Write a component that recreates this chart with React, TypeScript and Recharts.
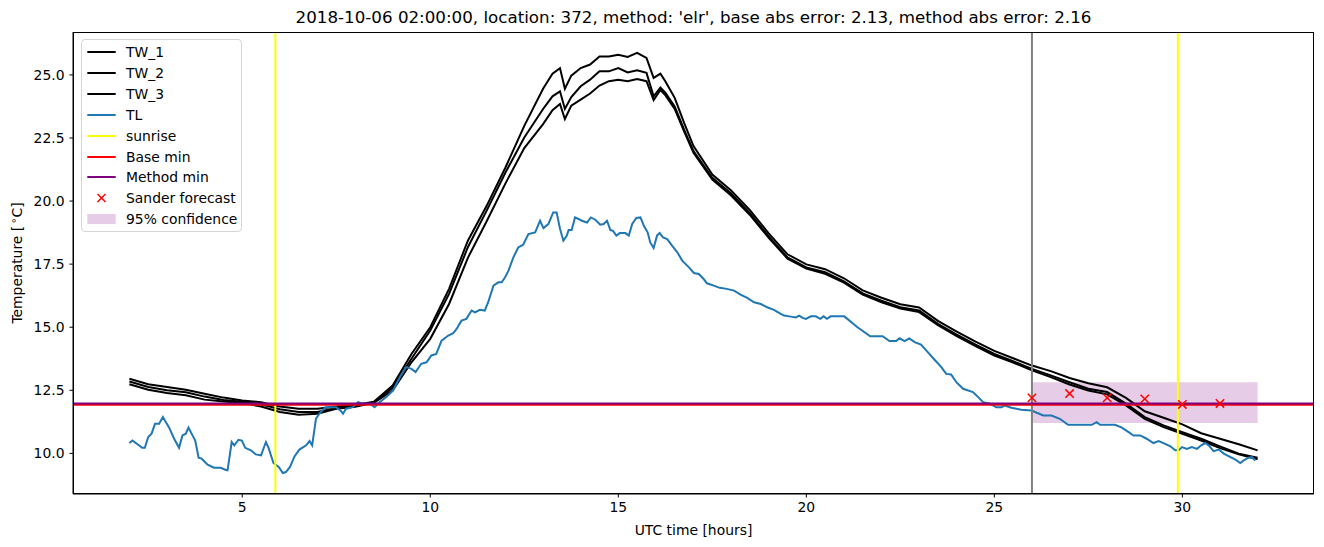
import React from 'react';
import { ComposedChart, Line, Scatter, XAxis, YAxis, ReferenceLine, ReferenceArea } from 'recharts';

const FONT = '"DejaVu Sans", sans-serif';

// wet-bulb temperatures (three sensors), shared hour axis
const twHours = [
  2, 2.5, 3, 3.5, 4, 4.5, 5, 5.5, 6, 6.5, 7, 7.5, 8, 8.5, 9, 9.5, 10, 10.5, 11, 11.5, 12, 12.5, 13,
  13.25, 13.45, 13.58, 13.75,
  14, 14.25, 14.5, 14.75, 15, 15.25, 15.5, 15.75,
  15.94, 16.12, 16.25, 16.5, 16.75,
  17, 17.5, 18, 18.5, 19, 19.5, 20, 20.5, 21, 21.5, 22, 22.5, 23, 23.5, 24, 24.5, 25, 25.5, 26,
  26.5, 27, 27.5, 28, 28.5, 29, 29.5, 30, 30.5, 31, 31.5, 32,
];
const tw1 = [
  12.96, 12.74, 12.63, 12.52, 12.36, 12.21, 12.1, 12.03, 11.86, 11.77, 11.77, 11.86, 11.92, 12.05, 12.69, 13.94, 15.0, 16.52, 18.43, 19.81, 21.33, 22.98, 24.45,
  25.05, 25.27, 24.45, 24.97,
  25.27, 25.41, 25.73, 25.73, 25.8, 25.71, 25.87, 25.67,
  24.88, 25.05, 24.75, 24.09, 23.1,
  22.18, 21.05, 20.42, 19.64, 18.72, 17.89, 17.49, 17.3, 16.94, 16.46, 16.17, 15.91, 15.78, 15.25, 14.83, 14.43, 14.06, 13.77, 13.48,
  13.26, 12.99, 12.78, 12.62, 12.2, 11.67, 11.41, 11.15, 10.8, 10.58, 10.36, 10.12,
];
const tw2 = [
  12.85, 12.63, 12.5, 12.42, 12.25, 12.12, 12.05, 11.95, 11.75, 11.64, 11.64, 11.8, 11.88, 12.02, 12.6, 13.75, 14.87, 16.32, 18.17, 19.62, 21.13, 22.52, 23.65,
  24.15, 24.35, 23.65, 24.12,
  24.55, 24.81, 25.14, 25.14, 25.27, 25.1, 25.18, 25.08,
  24.15, 24.5, 24.3, 23.75, 22.83,
  21.98, 20.92, 20.3, 19.52, 18.6, 17.77, 17.37, 17.18, 16.82, 16.34, 16.05, 15.79, 15.66, 15.13, 14.71, 14.31, 13.94, 13.65, 13.35,
  13.09, 12.82, 12.56, 12.43, 11.97, 11.44, 11.11, 10.84, 10.58, 10.28, 9.99, 9.83,
];
const tw3 = [
  12.74, 12.52, 12.39, 12.3, 12.13, 12.06, 12.0, 11.86, 11.64, 11.53, 11.57, 11.77, 11.85, 12.0, 12.49, 13.61, 14.54, 15.92, 17.75, 19.2, 20.7, 22.1, 23.05,
  23.6, 23.85, 23.25, 23.78,
  24.02, 24.26, 24.58, 24.75, 24.81, 24.75, 24.84, 24.75,
  24.0, 24.4, 24.2, 23.65, 22.76,
  21.91, 20.85, 20.22, 19.45, 18.54, 17.72, 17.32, 17.12, 16.77, 16.29, 15.99, 15.74, 15.6, 15.08, 14.65, 14.25, 13.88, 13.6, 13.29,
  13.02, 12.73, 12.49, 12.34, 11.9, 11.37, 11.04, 10.78, 10.51, 10.21, 9.96, 9.77,
];

// air temperature TL
const tlHours = [
  2.0, 2.08, 2.34, 2.41, 2.5, 2.59, 2.68, 2.79, 2.89, 3.05,
  3.19, 3.32, 3.41, 3.5, 3.57, 3.75, 3.84, 3.92, 4.08, 4.25,
  4.43, 4.55, 4.61, 4.72, 4.79, 4.9, 4.99, 5.08, 5.23, 5.36,
  5.5, 5.63, 5.7, 5.83, 5.97, 6.08, 6.16, 6.27, 6.39, 6.52,
  6.7, 6.79, 6.86, 6.96, 7.05, 7.21, 7.5, 7.63, 7.68, 7.76,
  7.94, 8.08, 8.21, 8.39, 8.52, 8.65, 8.83, 9.01, 9.19, 9.36,
  9.5, 9.61, 9.76, 9.9, 10.03, 10.16, 10.3, 10.48, 10.61, 10.7,
  10.83, 10.96, 11.1, 11.19, 11.32, 11.45, 11.54, 11.68, 11.81, 11.9,
  11.99, 12.08, 12.21, 12.34, 12.47, 12.61, 12.79, 12.92, 13.01, 13.14,
  13.27, 13.36, 13.45, 13.54, 13.63, 13.68, 13.76, 13.85, 13.94, 14.03,
  14.17, 14.27, 14.39, 14.52, 14.61, 14.7, 14.79, 14.86, 14.95, 15.04,
  15.19, 15.28, 15.37, 15.48, 15.59, 15.68, 15.78, 15.85, 15.94, 16.03,
  16.1, 16.19, 16.3, 16.43, 16.57, 16.7, 16.88, 17.01, 17.14, 17.27,
  17.36, 17.54, 17.7, 17.88, 18.08, 18.25, 18.43, 18.61, 18.79, 18.96,
  19.14, 19.32, 19.41, 19.59, 19.72, 19.81, 19.9, 19.99, 20.12, 20.25,
  20.37, 20.46, 20.55, 20.65, 21.01, 21.36, 21.7, 22.03, 22.21, 22.39,
  22.48, 22.61, 22.74, 22.88, 23.05, 23.23, 23.41, 23.59, 23.72, 23.85,
  23.99, 24.17, 24.43, 24.57, 24.7, 24.88, 25.05, 25.19, 25.28, 25.45,
  25.72, 25.99, 26.08, 26.3, 26.52, 26.74, 26.96, 27.19, 27.59, 27.72,
  27.81, 28.21, 28.39, 28.57, 28.7, 28.88, 29.05, 29.23, 29.37, 29.54,
  29.68, 29.81, 29.9, 29.99, 30.12, 30.25, 30.39, 30.5, 30.61, 30.7,
  30.83, 30.97, 31.1, 31.28, 31.41, 31.54, 31.63, 31.76, 31.85, 31.94,
];
const tlTemps = [
  10.41, 10.51, 10.22, 10.22, 10.65, 10.78, 11.17, 11.17, 11.44, 11.04,
  10.58, 10.22, 10.71, 10.78, 11.02, 10.51, 9.83, 9.79, 9.55, 9.43,
  9.43, 9.35, 9.33, 10.45, 10.32, 10.54, 10.51, 10.22, 10.12, 9.96,
  9.92, 10.45, 10.22, 9.62, 9.46, 9.22, 9.26, 9.46, 9.88, 10.15,
  10.32, 10.49, 10.32, 11.37, 11.57, 11.83, 11.83, 11.67, 11.57, 11.77,
  11.83, 12.03, 11.97, 11.97, 11.83, 12.03, 12.23, 12.49, 13.02, 13.42,
  13.35, 13.22, 13.55, 13.61, 13.88, 13.94, 14.47, 14.67, 14.76, 14.93,
  15.26, 15.33, 15.66, 15.59, 15.69, 15.66, 15.99, 16.65, 16.78, 16.78,
  16.98, 17.24, 17.77, 18.16, 18.27, 18.69, 18.76, 19.22, 18.93, 19.09,
  19.55, 19.55, 18.9, 18.43, 18.63, 18.85, 18.85, 19.35, 19.29, 19.22,
  19.15, 19.35, 19.26, 19.06, 19.09, 19.22, 18.85, 18.82, 18.63, 18.73,
  18.73, 18.63, 19.09, 19.33, 19.35, 19.02, 18.76, 18.36, 18.14, 18.63,
  18.73, 18.56, 18.49, 18.23, 17.97, 17.64, 17.37, 17.15, 17.11, 16.91,
  16.74, 16.65, 16.56, 16.52, 16.45, 16.29, 16.16, 15.99, 15.92, 15.79,
  15.69, 15.53, 15.46, 15.42, 15.39, 15.46, 15.37, 15.33, 15.43, 15.43,
  15.33, 15.43, 15.33, 15.43, 15.43, 15.0, 14.64, 14.64, 14.45, 14.45,
  14.56, 14.45, 14.56, 14.41, 14.31, 14.01, 13.71, 13.42, 13.15, 13.13,
  12.82, 12.56, 12.43, 12.23, 12.03, 11.97, 11.83, 11.83, 11.9, 11.81,
  11.73, 11.7, 11.64, 11.5, 11.5, 11.37, 11.13, 11.13, 11.13, 11.24,
  11.13, 11.13, 11.02, 10.84, 10.71, 10.71, 10.58, 10.41, 10.49, 10.38,
  10.28, 10.12, 10.12, 10.25, 10.18, 10.25, 10.18, 10.32, 10.41, 10.32,
  10.09, 10.15, 9.99, 9.85, 9.75, 9.62, 9.72, 9.83, 9.85, 9.72,
];

const forecastHours = [26, 27, 28, 29, 30, 31];
const forecastTemps = [12.2, 12.37, 12.2, 12.16, 11.94, 11.98];

const sunriseHours = [5.88, 29.88];
const forecastStart = 26;
const baseMin = 11.93;
const methodMin = 11.98;
const confidenceHours = [26, 32];
const confidenceTemps = [11.2, 12.82];

const xTicks = [5, 10, 15, 20, 25, 30];
const yTicks = [10, 12.5, 15, 17.5, 20, 22.5, 25];
const X_DOMAIN = [0.5, 33.5];
const Y_DOMAIN = [8.39, 26.7];

const TITLE = "2018-10-06 02:00:00, location: 372, method: 'elr', base abs error: 2.13, method abs error: 2.16";

const toPoints = (hours: number[], temps: number[]) => hours.map((h, i) => ({ h, t: temps[i] }));

const twSeries = [
  { name: 'TW_1', data: toPoints(twHours, tw1) },
  { name: 'TW_2', data: toPoints(twHours, tw2) },
  { name: 'TW_3', data: toPoints(twHours, tw3) },
];
const tlData = toPoints(tlHours, tlTemps);
const forecastData = toPoints(forecastHours, forecastTemps);

const XMark = (props: any) => {
  const { cx, cy } = props;
  if (cx == null || cy == null) return null;
  const s = 4.2;
  return (
    <path
      d={`M${cx - s},${cy - s}L${cx + s},${cy + s}M${cx - s},${cy + s}L${cx + s},${cy - s}`}
      stroke="#ff0000"
      strokeWidth={1.5}
      fill="none"
    />
  );
};

const legendItems = [
  { label: 'TW_1', kind: 'line', color: '#000000' },
  { label: 'TW_2', kind: 'line', color: '#000000' },
  { label: 'TW_3', kind: 'line', color: '#000000' },
  { label: 'TL', kind: 'line', color: '#1f77b4' },
  { label: 'sunrise', kind: 'line', color: '#ffff00' },
  { label: 'Base min', kind: 'line', color: '#ff0000' },
  { label: 'Method min', kind: 'line', color: '#800080' },
  { label: 'Sander forecast', kind: 'x', color: '#ff0000' },
  { label: '95% confidence', kind: 'patch', color: 'rgba(128,0,128,0.2)' },
];

const LegendBox = () => (
  <div
    style={{
      position: 'absolute',
      left: 81,
      top: 39,
      width: 161,
      height: 193,
      border: '1px solid #d5d5d5',
      borderRadius: 4,
      background: 'rgba(255,255,255,0.8)',
      boxSizing: 'border-box',
      fontFamily: FONT,
      fontSize: 13.9,
      color: '#000',
    }}
  >
    {legendItems.map((item, i) => {
      const cy = 12 + i * 20.9;
      return (
        <div key={item.label} style={{ position: 'absolute', left: 0, top: cy - 10, height: 20, width: 160 }}>
          <svg width={36} height={20} style={{ position: 'absolute', left: 4, top: 0 }}>
            {item.kind === 'line' && <line x1={1.3} x2={29.7} y1={10} y2={10} stroke={item.color} strokeWidth={2} />}
            {item.kind === 'x' && (
              <path d="M11.5,6L19.5,14M11.5,14L19.5,6" stroke={item.color} strokeWidth={1.5} fill="none" />
            )}
            {item.kind === 'patch' && <rect x={1.3} y={5} width={28.4} height={10} fill={item.color} />}
          </svg>
          <span style={{ position: 'absolute', left: 44, top: 0, lineHeight: '20px', whiteSpace: 'nowrap' }}>
            {item.label}
          </span>
        </div>
      );
    })}
  </div>
);

const tickStyle = { fill: '#000', fontSize: 13.9, fontFamily: FONT };

const App = () => {
  return (
    <div style={{ position: 'absolute', left: 0, top: 0, width: 1324, height: 547, background: '#fff', fontFamily: FONT }}>
      <ComposedChart width={1324} height={547} margin={{ top: 32, right: 10, bottom: 0, left: 0 }}>
        <XAxis
          dataKey="h"
          type="number"
          domain={X_DOMAIN}
          ticks={xTicks}
          allowDataOverflow
          height={53}
          tick={tickStyle}
          tickSize={3.5}
          tickMargin={5}
          tickLine={{ stroke: '#000' }}
          axisLine={{ stroke: '#000' }}
        />
        <YAxis
          type="number"
          domain={Y_DOMAIN}
          ticks={yTicks}
          allowDataOverflow
          width={73}
          tick={tickStyle}
          tickFormatter={(v: number) => v.toFixed(1)}
          tickSize={3.5}
          tickMargin={5}
          tickLine={{ stroke: '#000' }}
          axisLine={{ stroke: '#000' }}
        />
        <ReferenceArea
          x1={confidenceHours[0]}
          x2={confidenceHours[1]}
          y1={confidenceTemps[0]}
          y2={confidenceTemps[1]}
          fill="#800080"
          fillOpacity={0.2}
          stroke="none"
        />
        {twSeries.map((s) => (
          <Line
            key={s.name}
            data={s.data}
            dataKey="t"
            name={s.name}
            type="linear"
            stroke="#000000"
            strokeWidth={2}
            dot={false}
            isAnimationActive={false}
          />
        ))}
        <Line
          data={tlData}
          dataKey="t"
          name="TL"
          type="linear"
          stroke="#1f77b4"
          strokeWidth={2}
          dot={false}
          isAnimationActive={false}
        />
        {sunriseHours.map((h) => (
          <ReferenceLine key={h} x={h} stroke="#ffff00" strokeWidth={2} />
        ))}
        <ReferenceLine x={forecastStart} stroke="#808080" strokeWidth={2} />
        <ReferenceLine y={baseMin} stroke="#ff0000" strokeWidth={2} />
        <ReferenceLine y={methodMin} stroke="#800080" strokeWidth={2} />
        <Scatter data={forecastData} dataKey="t" name="Sander forecast" shape={XMark} isAnimationActive={false} />
      </ComposedChart>

      {/* axes frame (matplotlib spines) */}
      <div
        style={{
          position: 'absolute',
          left: 73,
          top: 32,
          width: 1241,
          height: 462,
          border: '1px solid #000',
          boxSizing: 'border-box',
          pointerEvents: 'none',
        }}
      />

      <div
        style={{
          position: 'absolute',
          left: 73,
          width: 1241,
          top: 7,
          lineHeight: '20px',
          textAlign: 'center',
          fontSize: 16.7,
          whiteSpace: 'nowrap',
          color: '#000',
        }}
      >
        {TITLE}
      </div>
      <div
        style={{
          position: 'absolute',
          left: 73,
          width: 1241,
          top: 520,
          lineHeight: '20px',
          textAlign: 'center',
          fontSize: 13.9,
          color: '#000',
        }}
      >
        UTC time [hours]
      </div>
      <div
        style={{
          position: 'absolute',
          left: 18,
          top: 263,
          transform: 'translate(-50%, -50%) rotate(-90deg)',
          fontSize: 13.9,
          lineHeight: '20px',
          whiteSpace: 'nowrap',
          color: '#000',
        }}
      >
        Temperature [<span style={{ fontSize: 10, position: 'relative', top: -5, marginLeft: 2 }}>∘</span>C]
      </div>
      <LegendBox />
    </div>
  );
};

export default App;
